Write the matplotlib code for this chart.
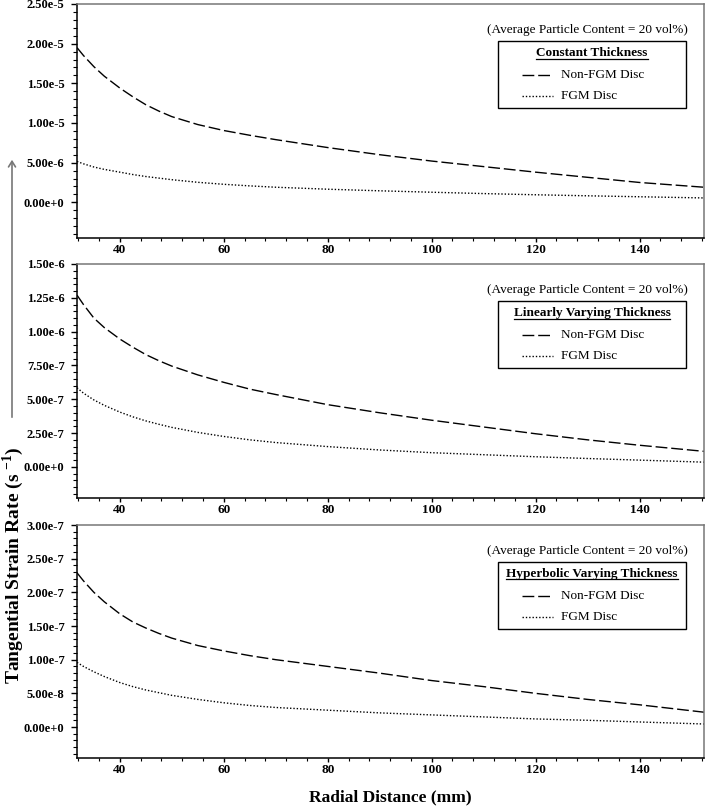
import numpy as np
import matplotlib
matplotlib.use("Agg")
import matplotlib.pyplot as plt
from matplotlib.ticker import MultipleLocator, FuncFormatter
from matplotlib.lines import Line2D
from matplotlib.patches import Rectangle, FancyArrowPatch

plt.rcParams['font.family'] = ['Liberation Serif', 'DejaVu Serif']
plt.rcParams['mathtext.fontset'] = 'custom'
plt.rcParams['mathtext.rm'] = 'Liberation Serif'
plt.rcParams['mathtext.bf'] = 'Liberation Serif:bold'

# ---------------- data ----------------
radius = [31.75, 33, 35, 37, 40, 42.5, 45, 47.5, 50, 55, 60, 65, 70, 80, 90, 100,
          110, 120, 130, 140, 152.4]

const_nonfgm = [1.95e-5, 1.85e-5, 1.71e-5, 1.59e-5, 1.44e-5, 1.33e-5, 1.23e-5, 1.15e-5,
                1.08e-5, 0.98e-5, 0.905e-5, 0.845e-5, 0.79e-5, 0.69e-5, 0.60e-5, 0.52e-5,
                0.45e-5, 0.38e-5, 0.315e-5, 0.25e-5, 0.19e-5]
const_fgm = [5.15e-6, 4.85e-6, 4.45e-6, 4.15e-6, 3.8e-6, 3.5e-6, 3.25e-6, 3.05e-6,
             2.85e-6, 2.52e-6, 2.27e-6, 2.07e-6, 1.9e-6, 1.65e-6, 1.45e-6, 1.27e-6,
             1.1e-6, 0.95e-6, 0.82e-6, 0.7e-6, 0.55e-6]

linear_nonfgm = [12.7e-7, 12.0e-7, 11.0e-7, 10.3e-7, 9.45e-7, 8.85e-7, 8.3e-7, 7.85e-7,
                 7.45e-7, 6.8e-7, 6.25e-7, 5.75e-7, 5.35e-7, 4.6e-7, 4.0e-7, 3.45e-7,
                 2.95e-7, 2.45e-7, 2.0e-7, 1.6e-7, 1.15e-7]
linear_fgm = [5.85e-7, 5.45e-7, 4.95e-7, 4.55e-7, 4.05e-7, 3.7e-7, 3.4e-7, 3.15e-7,
              2.92e-7, 2.55e-7, 2.25e-7, 2.0e-7, 1.8e-7, 1.5e-7, 1.25e-7, 1.05e-7,
              0.9e-7, 0.75e-7, 0.62e-7, 0.5e-7, 0.35e-7]

hyper_nonfgm = [2.29e-7, 2.17e-7, 2.0e-7, 1.86e-7, 1.68e-7, 1.56e-7, 1.47e-7, 1.39e-7,
                1.32e-7, 1.21e-7, 1.13e-7, 1.06e-7, 1.0e-7, 0.9e-7, 0.8e-7, 0.69e-7,
                0.6e-7, 0.5e-7, 0.41e-7, 0.33e-7, 0.22e-7]
hyper_fgm = [9.6e-8, 9.0e-8, 8.2e-8, 7.5e-8, 6.6e-8, 6.0e-8, 5.5e-8, 5.1e-8,
             4.7e-8, 4.1e-8, 3.6e-8, 3.2e-8, 2.9e-8, 2.5e-8, 2.1e-8, 1.8e-8,
             1.5e-8, 1.2e-8, 1.0e-8, 0.75e-8, 0.45e-8]

titles = ["Constant Thickness", "Linearly Varying Thickness", "Hyperbolic Varying Thickness"]
series_labels = ["Non-FGM Disc", "FGM Disc"]
annotation = "(Average Particle Content = 20 vol%)"
x_ticks = [40, 60, 80, 100, 120, 140]
y_limits = [(-4.5e-6, 2.5e-5), (-2.3e-7, 1.5e-6), (-4.6e-8, 3.0e-7)]
y_major = [5e-6, 2.5e-7, 5e-8]
y_minor = [1e-6, 5e-8, 1e-8]

# ---------------- figure ----------------
W, H = 707, 808
fig = plt.figure(figsize=(W / 100, H / 100), dpi=100)

def fig_rect(left, top, right, bottom):
    return [left / W, 1 - bottom / H, (right - left) / W, (bottom - top) / H]

rects = [fig_rect(77, 4, 704, 238), fig_rect(77, 264, 704, 498), fig_rect(77, 525, 704, 758)]
data = [(const_nonfgm, const_fgm), (linear_nonfgm, linear_fgm), (hyper_nonfgm, hyper_fgm)]

dash_style = dict(color='black', lw=1.0, dashes=(8.5, 2.8))
dot_style = dict(color='black', lw=1.0, dashes=(1.0, 1.4))

def sci_fmt(v, pos):
    if abs(v) < 1e-20:
        return "0.00e+0"
    e = int(np.floor(np.log10(abs(v)) + 1e-9))
    m = v / 10 ** e
    sign = '-' if e < 0 else '+'
    return f"{m:.2f}e{sign}{abs(e)}"

for i, (rect, (s1, s2)) in enumerate(zip(rects, data)):
    ax = fig.add_axes(rect)
    ax.plot(radius, s1, **dash_style)
    ax.plot(radius, s2, **dot_style)
    ax.set_xlim(31.75, 152.4)
    ax.set_ylim(*y_limits[i])
    ax.set_xticks(x_ticks)
    ax.xaxis.set_minor_locator(MultipleLocator(4))
    ax.yaxis.set_major_locator(MultipleLocator(y_major[i]))
    ax.yaxis.set_minor_locator(MultipleLocator(y_minor[i]))
    ax.yaxis.set_major_formatter(FuncFormatter(sci_fmt))
    ax.tick_params(axis='y', which='major', direction='out', length=4, width=1.0,
                   labelsize=9, pad=5)
    ax.tick_params(axis='y', which='minor', direction='out', length=3, width=0.8)
    ax.tick_params(axis='x', which='major', direction='out', length=3, width=1.0,
                   labelsize=9.5, pad=1.5)
    ax.tick_params(axis='x', which='minor', direction='out', length=2, width=0.8)
    for lab in ax.get_xticklabels() + ax.get_yticklabels():
        lab.set_fontweight('bold')
    for side in ['left', 'bottom']:
        ax.spines[side].set_color('black')
        ax.spines[side].set_linewidth(1.1)
    for side in ['top', 'right']:
        ax.spines[side].set_color('#777777')
        ax.spines[side].set_linewidth(1.1)

    # annotation + custom boxed legend (axes pixel -> axes fraction)
    axw, axh = 627, 234
    def ax_pt(px, off):
        return ((px - 77) / axw, 1 - off / axh)
    ax.text(*ax_pt(688, 26), annotation, transform=ax.transAxes, ha='right', va='center',
            fontsize=9.5)
    bx0, by0 = ax_pt(498, 104)
    bx1, by1 = ax_pt(686, 37)
    ax.add_patch(Rectangle((bx0, by0), bx1 - bx0, by1 - by0, transform=ax.transAxes,
                           fill=False, edgecolor='black', lw=1.0, zorder=5))
    cx = (bx0 + bx1) / 2
    t = ax.text(cx, ax_pt(0, 49)[1], titles[i], transform=ax.transAxes, ha='center',
                va='center', fontsize=9.5, fontweight='bold')
    fig.canvas.draw()
    bb = t.get_window_extent().transformed(ax.transAxes.inverted())
    ax.add_line(Line2D([bb.x0, bb.x1], [bb.y0 + 0.002, bb.y0 + 0.002], transform=ax.transAxes,
                       color='black', lw=0.9))
    for j, (style, lab) in enumerate(zip([dash_style, dot_style], series_labels)):
        yy = ax_pt(0, 71 + 21 * j)[1]
        hx0 = ax_pt(522, 0)[0]
        hx1 = ax_pt(553, 0)[0]
        ax.add_line(Line2D([hx0, hx1], [yy, yy], transform=ax.transAxes, **style))
        ax.text(ax_pt(561, 0)[0], yy, lab, transform=ax.transAxes, ha='left', va='center',
                fontsize=9.5)

fig.text(390 / W, 1 - 797 / H, "Radial Distance (mm)", ha='center', va='center',
         fontsize=12.5, fontweight='bold')
fig.text(13 / W, 1 - 565 / H, r"Tangential Strain Rate (s $^{\mathbf{-1}}$)", rotation=90,
         ha='center', va='center', fontsize=14, fontweight='bold')
fig.add_artist(FancyArrowPatch(
    (12 / W, 1 - 420 / H), (12 / W, 1 - 157 / H), transform=fig.transFigure,
    arrowstyle='->,head_length=4,head_width=2.5', color='#777777', lw=1.2,
    mutation_scale=1))

fig.savefig("out.png", dpi=100)
